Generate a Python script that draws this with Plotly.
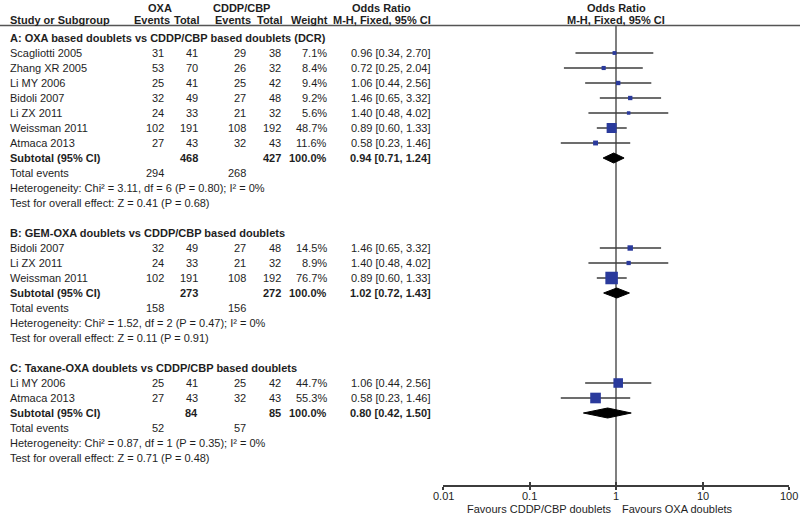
import math
import plotly.graph_objects as go

# ---------------- data ----------------
A_title = "A: OXA based doublets vs CDDP/CBP based doublets (DCR)"
A_names = ["Scagliotti 2005", "Zhang XR 2005", "Li MY 2006", "Bidoli 2007", "Li ZX 2011", "Weissman 2011", "Atmaca 2013"]
A_oxa_ev = [31, 53, 25, 32, 24, 102, 27]
A_oxa_tot = [41, 70, 41, 49, 33, 191, 43]
A_cd_ev = [29, 26, 25, 27, 21, 108, 32]
A_cd_tot = [38, 32, 42, 48, 32, 192, 43]
A_weight = [7.1, 8.4, 9.4, 9.2, 5.6, 48.7, 11.6]
A_or = [0.96, 0.72, 1.06, 1.46, 1.40, 0.89, 0.58]
A_lo = [0.34, 0.25, 0.44, 0.65, 0.48, 0.60, 0.23]
A_hi = [2.70, 2.04, 2.56, 3.32, 4.02, 1.33, 1.46]
A_sub = dict(oxa_tot=468, cd_tot=427, orr=0.94, lo=0.71, hi=1.24, oxa_ev=294, cd_ev=268,
             het="Heterogeneity: Chi² = 3.11, df = 6 (P = 0.80); I² = 0%",
             test="Test for overall effect: Z = 0.41 (P = 0.68)")

B_title = "B: GEM-OXA doublets vs CDDP/CBP based doublets"
B_names = ["Bidoli 2007", "Li ZX 2011", "Weissman 2011"]
B_oxa_ev = [32, 24, 102]
B_oxa_tot = [49, 33, 191]
B_cd_ev = [27, 21, 108]
B_cd_tot = [48, 32, 192]
B_weight = [14.5, 8.9, 76.7]
B_or = [1.46, 1.40, 0.89]
B_lo = [0.65, 0.48, 0.60]
B_hi = [3.32, 4.02, 1.33]
B_sub = dict(oxa_tot=273, cd_tot=272, orr=1.02, lo=0.72, hi=1.43, oxa_ev=158, cd_ev=156,
             het="Heterogeneity: Chi² = 1.52, df = 2 (P = 0.47); I² = 0%",
             test="Test for overall effect: Z = 0.11 (P = 0.91)")

C_title = "C: Taxane-OXA doublets vs CDDP/CBP based doublets"
C_names = ["Li MY 2006", "Atmaca 2013"]
C_oxa_ev = [25, 27]
C_oxa_tot = [41, 43]
C_cd_ev = [25, 32]
C_cd_tot = [42, 43]
C_weight = [44.7, 55.3]
C_or = [1.06, 0.58]
C_lo = [0.44, 0.23]
C_hi = [2.56, 1.46]
C_sub = dict(oxa_tot=84, cd_tot=85, orr=0.80, lo=0.42, hi=1.50, oxa_ev=52, cd_ev=57,
             het="Heterogeneity: Chi² = 0.87, df = 1 (P = 0.35); I² = 0%",
             test="Test for overall effect: Z = 0.71 (P = 0.48)")

tick_vals = [0.01, 0.1, 1, 10, 100]
tick_text = ["0.01", "0.1", "1", "10", "100"]
favours_left = "Favours CDDP/CBP doublets"
favours_right = "Favours OXA doublets"

groups = [
    (A_title, A_names, A_oxa_ev, A_oxa_tot, A_cd_ev, A_cd_tot, A_weight, A_or, A_lo, A_hi, A_sub),
    (B_title, B_names, B_oxa_ev, B_oxa_tot, B_cd_ev, B_cd_tot, B_weight, B_or, B_lo, B_hi, B_sub),
    (C_title, C_names, C_oxa_ev, C_oxa_tot, C_cd_ev, C_cd_tot, C_weight, C_or, C_lo, C_hi, C_sub),
]

# ---------------- layout constants ----------------
W, H = 800, 515
FONT = "Liberation Sans, Arial, sans-serif"
TXT = "#1e1e1e"
FS = 11
ROW0 = 38
DY = 15
AXIS_Y = 485
X_STUDY = 10
X_OXA_EV = 164
X_OXA_TOT = 198
X_CD_EV = 246
X_CD_TOT = 281
X_WEIGHT = 327
X_CI = 431
BLUE = "#2a3a9c"
LINEC = "#3c3c3c"

fig = go.Figure()
ann = []


def text(x, y, s, anchor="left", bold=False, size=FS, xref="paper"):
    if bold:
        s = "<b>" + s + "</b>"
    ann.append(dict(x=(x / W if xref == "paper" else math.log10(x)), y=(H - y) / H, xref=xref,
                    yref="paper", text=s, showarrow=False,
                    xanchor=anchor, yanchor="middle", borderpad=0, borderwidth=0,
                    font=dict(family=FONT, size=size, color=TXT)))


# header
text(160, 8, "OXA", "center", True)
text(241, 8, "CDDP/CBP", "center", True)
text(381, 8, "Odds Ratio", "center", True)
text(616, 8, "Odds Ratio", "center", True)
text(X_STUDY, 20, "Study or Subgroup", "left", True)
text(170, 20, "Events", "right", True)
text(199, 20, "Total", "right", True)
text(251, 20, "Events", "right", True)
text(282, 20, "Total", "right", True)
text(328, 20, "Weight", "right", True)
text(X_CI, 20, "M-H, Fixed, 95% CI", "right", True)
text(616, 20, "M-H, Fixed, 95% CI", "center", True)

row = 0
for (title, names, oev, otot, cev, ctot, wt, orr, lo, hi, sub) in groups:
    y = ROW0 + DY * row
    text(X_STUDY, y, title, "left", True, 11)
    row += 1
    ys = []
    for i in range(len(names)):
        y = ROW0 + DY * row
        ys.append(y)
        text(X_STUDY, y, names[i])
        text(X_OXA_EV, y, str(oev[i]), "right")
        text(X_OXA_TOT, y, str(otot[i]), "right")
        text(X_CD_EV, y, str(cev[i]), "right")
        text(X_CD_TOT, y, str(ctot[i]), "right")
        text(X_WEIGHT, y, f"{wt[i]:.1f}%", "right")
        text(X_CI, y, f"{orr[i]:.2f} [{lo[i]:.2f}, {hi[i]:.2f}]", "right")
        row += 1
    # CI lines
    for i in range(len(names)):
        fig.add_trace(go.Scatter(x=[lo[i], hi[i]], y=[ys[i], ys[i]], mode="lines",
                                 line=dict(color=LINEC, width=1.5), hoverinfo="skip", showlegend=False))
    fig.add_trace(go.Scatter(x=orr, y=ys, mode="markers",
                             marker=dict(symbol="square", color=BLUE, opacity=1,
                                         size=[max(3.5, 1.43 * (w ** 0.5)) for w in wt], line=dict(width=0)),
                             hoverinfo="skip", showlegend=False))
    # subtotal
    y = ROW0 + DY * row
    text(X_STUDY, y, "Subtotal (95% CI)", "left", True)
    text(X_OXA_TOT, y, str(sub["oxa_tot"]), "right", True)
    text(X_CD_TOT, y, str(sub["cd_tot"]), "right", True)
    text(X_WEIGHT, y, "100.0%", "right", True)
    text(X_CI, y, f"{sub['orr']:.2f} [{sub['lo']:.2f}, {sub['hi']:.2f}]", "right", True)
    fig.add_trace(go.Scatter(x=[sub["lo"], sub["orr"], sub["hi"], sub["orr"], sub["lo"]],
                             y=[y, y - 5, y, y + 5, y], mode="lines", fill="toself",
                             fillcolor="black", line=dict(color="black", width=1),
                             hoverinfo="skip", showlegend=False))
    row += 1
    y = ROW0 + DY * row
    text(X_STUDY, y, "Total events")
    text(X_OXA_EV, y, str(sub["oxa_ev"]), "right")
    text(X_CD_EV, y, str(sub["cd_ev"]), "right")
    row += 1
    text(X_STUDY, ROW0 + DY * row, sub["het"])
    row += 1
    text(X_STUDY, ROW0 + DY * row, sub["test"])
    row += 2

# tick labels placed on the log axis scale
for v, t in zip(tick_vals, tick_text):
    text(v, 496, t, "center", xref="x")

# favours labels
text(612, 509, favours_left, "right")
text(622, 509, favours_right, "left")

# hidden trace to activate the overlay axis (inside ticks)
fig.add_trace(go.Scatter(x=[1], y=[AXIS_Y], xaxis="x2", mode="markers",
                         marker=dict(opacity=0), hoverinfo="skip", showlegend=False))

shapes = [
    dict(type="line", xref="paper", yref="y", x0=0, x1=1, y0=25.5, y1=25.5,
         line=dict(color="#555555", width=1.5)),
    dict(type="line", xref="x", yref="y", x0=1, x1=1, y0=25.5, y1=AXIS_Y,
         line=dict(color="#555555", width=1.5), layer="below"),
]

axis_common = dict(type="log", range=[-2, 2], tickvals=tick_vals, showgrid=False, zeroline=False,
                   showline=True, linecolor=LINEC, linewidth=1.5, tickcolor=LINEC, tickwidth=1.5,
                   ticklen=3, domain=[443 / W, 789 / W])
fig.update_layout(
    width=W, height=H, margin=dict(l=0, r=0, t=0, b=0),
    paper_bgcolor="white", plot_bgcolor="white", showlegend=False,
    xaxis=dict(**axis_common, ticks="outside", showticklabels=False),
    xaxis2=dict(**axis_common, ticks="inside", showticklabels=False, overlaying="x", anchor="y",
                matches="x"),
    yaxis=dict(range=[AXIS_Y, 0], domain=[(H - AXIS_Y) / H, 1], showgrid=False, zeroline=False,
               showticklabels=False, showline=False, ticks=""),
    annotations=ann, shapes=shapes,
)

fig.write_html("out.html", config={"displayModeBar": False},
               post_script="document.body.style.margin='0';document.body.style.overflow='hidden';")
